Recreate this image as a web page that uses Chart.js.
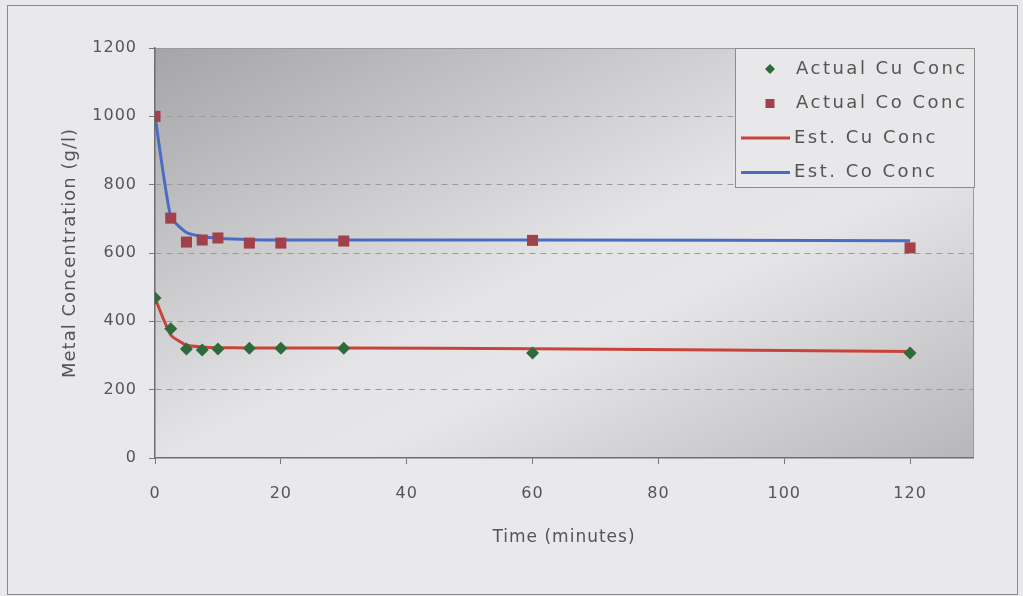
<!DOCTYPE html>
<html lang="en">
<head>
    <meta charset="UTF-8">
    <title>Metal Concentration</title>
    <style>
        html, body { margin: 0; padding: 0; background: #e9e9ed; }
        #wrap { width: 1023px; height: 596px; position: relative; }
    </style>
</head>
<body>
    <div id="wrap"><canvas id="concChart"></canvas></div>

    <script src="https://cdn.jsdelivr.net/npm/chart.js@4.4.1/dist/chart.umd.min.js"></script>
    <script>
        // sample times (minutes)
        const times = [0, 2.5, 5, 7.5, 10, 15, 20, 30, 60, 120];
        const cuActual = [468, 378, 319, 316, 319, 321, 321, 321, 307, 307];
        const coActual = [1000, 702, 632, 638, 644, 629, 629, 635, 637, 615];
        const cuEst = [468, 360, 330, 325, 323, 322, 322, 322, 320, 312];
        const coEst = [1000, 705, 660, 648, 643, 639, 638, 638, 638, 636];
        const seriesLabels = ['Actual Cu Conc', 'Actual Co Conc', 'Est. Cu Conc', 'Est. Co Conc'];
        const xTicks = [0, 20, 40, 60, 80, 100, 120];
        const yTicks = [0, 200, 400, 600, 800, 1000, 1200];

        const textColor = '#555555';
        const fontFamily = '"DejaVu Sans", sans-serif';

        function pts(vals) {
            return times.map((t, i) => ({ x: t, y: vals[i] }));
        }

        // page background, outer frame, plot gradient
        const backdrop = {
            id: 'backdrop',
            beforeDraw(chart) {
                const { ctx, chartArea: a, width, height } = chart;
                ctx.save();
                ctx.fillStyle = '#e9e9ed';
                ctx.fillRect(0, 0, width, height);
                ctx.strokeStyle = '#8a8a8a';
                ctx.lineWidth = 1;
                ctx.strokeRect(7.5, 5.5, 1010, 589);
                const g = ctx.createLinearGradient(a.left, a.top, a.left + 330, a.bottom + 250);
                g.addColorStop(0, '#a5a5a7');
                g.addColorStop(0.5, '#e4e4e6');
                g.addColorStop(0.62, '#e6e6e8');
                g.addColorStop(1, '#b6b6b8');
                ctx.fillStyle = g;
                ctx.fillRect(a.left, a.top, a.right - a.left, a.bottom - a.top);
                ctx.strokeStyle = '#9a9a9a';
                ctx.beginPath();
                ctx.moveTo(a.left, a.top + 0.5);
                ctx.lineTo(a.right + 0.5, a.top + 0.5);
                ctx.lineTo(a.right + 0.5, a.bottom);
                ctx.stroke();
                ctx.restore();
                ctx.letterSpacing = '1px';
            }
        };

        // legend drawn inside the plot, top right, with a frame
        const legendBox = {
            id: 'legendBox',
            afterDraw(chart) {
                const { ctx, chartArea: a } = chart;
                const w = 240, h = 140;
                const x0 = a.right - w + 2, y0 = a.top;
                ctx.save();
                ctx.fillStyle = '#e8e8eb';
                ctx.fillRect(x0, y0, w, h);
                ctx.strokeStyle = '#8c8c8c';
                ctx.lineWidth = 1;
                ctx.strokeRect(x0 + 0.5, y0 + 0.5, w - 1, h - 1);
                ctx.font = '18px ' + fontFamily;
                ctx.letterSpacing = '2.5px';
                ctx.textBaseline = 'middle';
                chart.data.datasets.forEach((ds, i) => {
                    const cy = y0 + 21 + i * 34.5;
                    if (ds.showLine) {
                        ctx.strokeStyle = ds.borderColor;
                        ctx.lineWidth = 3;
                        ctx.beginPath();
                        ctx.moveTo(x0 + 6, cy);
                        ctx.lineTo(x0 + 55, cy);
                        ctx.stroke();
                    } else {
                        ctx.fillStyle = ds.pointBackgroundColor;
                        ctx.beginPath();
                        if (ds.pointStyle === 'rectRot') {
                            ctx.moveTo(x0 + 35, cy - 5);
                            ctx.lineTo(x0 + 40, cy);
                            ctx.lineTo(x0 + 35, cy + 5);
                            ctx.lineTo(x0 + 30, cy);
                        } else {
                            ctx.rect(x0 + 30.5, cy - 4.5, 9, 9);
                        }
                        ctx.fill();
                    }
                    ctx.fillStyle = textColor;
                    ctx.fillText(ds.label, x0 + (ds.showLine ? 59 : 61), cy);
                });
                ctx.restore();
            }
        };

        const ctx = document.getElementById('concChart').getContext('2d');
        new Chart(ctx, {
            type: 'scatter',
            data: {
                datasets: [
                    {
                        label: seriesLabels[0],
                        data: pts(cuActual),
                        showLine: false,
                        pointStyle: 'rectRot',
                        pointRadius: 6.5,
                        pointBackgroundColor: '#2f6b3a',
                        pointBorderColor: '#2f6b3a',
                        pointBorderWidth: 0
                    },
                    {
                        label: seriesLabels[1],
                        data: pts(coActual),
                        showLine: false,
                        pointStyle: 'rect',
                        pointRadius: 7.8,
                        pointBackgroundColor: '#a1414c',
                        pointBorderColor: '#a1414c',
                        pointBorderWidth: 0
                    },
                    {
                        label: seriesLabels[2],
                        data: pts(cuEst),
                        showLine: true,
                        borderColor: '#c8443a',
                        borderWidth: 3,
                        pointRadius: 0,
                        tension: 0.15
                    },
                    {
                        label: seriesLabels[3],
                        data: pts(coEst),
                        showLine: true,
                        borderColor: '#4a6cc4',
                        borderWidth: 3,
                        pointRadius: 0,
                        tension: 0.15
                    }
                ]
            },
            options: {
                responsive: true,
                maintainAspectRatio: false,
                animation: false,
                layout: { padding: { left: 0, top: 48, right: 50, bottom: 0 } },
                plugins: {
                    legend: { display: false },
                    tooltip: { enabled: false }
                },
                scales: {
                    x: {
                        type: 'linear',
                        min: 0,
                        max: 130,
                        afterFit: s => { s.height = 138; },
                        afterBuildTicks: s => { s.ticks = xTicks.map(v => ({ value: v })); },
                        ticks: {
                            padding: 20,
                            color: textColor,
                            font: { family: fontFamily, size: 16 },
                            callback: v => String(v)
                        },
                        grid: {
                            drawOnChartArea: false,
                            tickLength: 6,
                            tickColor: '#777777'
                        },
                        border: { color: '#6e6e6e', width: 1.5 },
                        title: {
                            display: true,
                            text: 'Time (minutes)',
                            color: textColor,
                            font: { family: fontFamily, size: 17 },
                            padding: { top: 0, bottom: 48 }
                        }
                    },
                    y: {
                        min: 0,
                        max: 1200,
                        afterFit: s => { s.width = 155; },
                        afterBuildTicks: s => { s.ticks = yTicks.map(v => ({ value: v })); },
                        ticks: {
                            padding: 12,
                            color: textColor,
                            font: { family: fontFamily, size: 16 },
                            callback: v => String(v)
                        },
                        grid: {
                            color: c => (c.tick && (c.tick.value === 0 || c.tick.value === 1200)) ? 'rgba(0,0,0,0)' : '#9a9a9a',
                            lineWidth: 1,
                            tickLength: 6,
                            tickColor: '#777777',
                            tickBorderDash: []
                        },
                        border: { color: '#6e6e6e', width: 1.5, dash: [6, 5] },
                        title: {
                            display: true,
                            text: 'Metal Concentration (g/l)',
                            color: textColor,
                            font: { family: fontFamily, size: 18 },
                            padding: { top: 60, bottom: 0 }
                        }
                    }
                }
            },
            plugins: [backdrop, legendBox]
        });
    </script>
</body>
</html>
